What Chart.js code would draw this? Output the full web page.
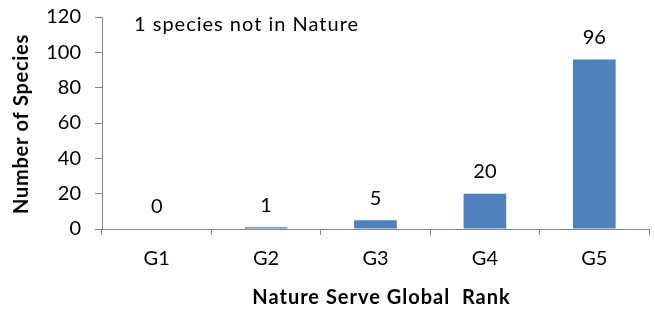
<!DOCTYPE html>
<html>
<head>
<meta charset="utf-8">
<script src="https://cdn.jsdelivr.net/npm/chart.js@4"></script>
<style>
  html, body { margin: 0; padding: 0; background: #fff; }
  #wrap { width: 655px; height: 311px; }
</style>
</head>
<body>
<div id="wrap"><canvas id="chart" width="655" height="311"></canvas></div>
<script>
var CATEGORIES = ['G1', 'G2', 'G3', 'G4', 'G5'];
var SPECIES = [0, 1, 5, 20, 96];
var NOTE = '1 species not in Nature';
var Y_TITLE = 'Number of Species';
var X_TITLE = 'Nature Serve Global  Rank';
var FONT = 'Lato, "Open Sans", sans-serif';
var BAR = '#4f81bd';
var AXIS = '#868686';

// value labels above bars, the note, and both axis titles
var labelsPlugin = {
  id: 'labels',
  afterDatasetsDraw: function(chart) {
    var c = chart.ctx;
    var area = chart.chartArea;
    var meta = chart.getDatasetMeta(0);
    c.save();
    c.fillStyle = '#000';
    c.font = '20px ' + FONT;
    c.textAlign = 'center';
    c.textBaseline = 'middle';
    meta.data.forEach(function(bar, i) {
      c.fillText(String(SPECIES[i]), bar.x, bar.y - 22);
    });
    c.textAlign = 'left';
    c.letterSpacing = '1px';
    c.fillText(NOTE, area.left + 32, area.top + 8);

    c.textAlign = 'center';
    c.font = 'bold 20px ' + FONT;
    c.fillText(X_TITLE, (area.left + area.right) / 2 + 6, area.bottom + 69);

    c.letterSpacing = '0.7px';
    c.translate(22, (area.top + area.bottom) / 2 + 1);
    c.rotate(-Math.PI / 2);
    c.fillText(Y_TITLE, 0, 0);
    c.restore();
  }
};

var ctx = document.getElementById('chart');
var chart = new Chart(ctx, {
  type: 'bar',
  data: {
    labels: CATEGORIES,
    datasets: [{
      label: 'Number of Species',
      data: SPECIES,
      backgroundColor: BAR,
      barPercentage: 0.39,
      categoryPercentage: 1
    }]
  },
  plugins: [labelsPlugin],
  options: {
    responsive: false,
    animation: false,
    layout: { padding: { top: 17, right: 6, left: 0, bottom: 0 } },
    plugins: {
      legend: { display: false },
      tooltip: { enabled: false }
    },
    scales: {
      x: {
        grid: { drawOnChartArea: false, drawTicks: true, tickLength: 6, color: AXIS, offset: true },
        border: { display: true, color: AXIS, width: 1 },
        ticks: { color: '#000', font: { family: FONT, size: 20 }, padding: 12 },
        afterFit: function(s) { s.height = 82; }
      },
      y: {
        min: 0, max: 120,
        grid: { drawOnChartArea: false, drawTicks: true, tickLength: 7, color: AXIS },
        border: { display: true, color: AXIS, width: 1 },
        ticks: { stepSize: 20, color: '#000', font: { family: FONT, size: 20 }, padding: 14 },
        afterFit: function(s) { s.width = 102; s.paddingTop = 0; s.paddingBottom = 0; }
      }
    }
  }
});
</script>
</body>
</html>
